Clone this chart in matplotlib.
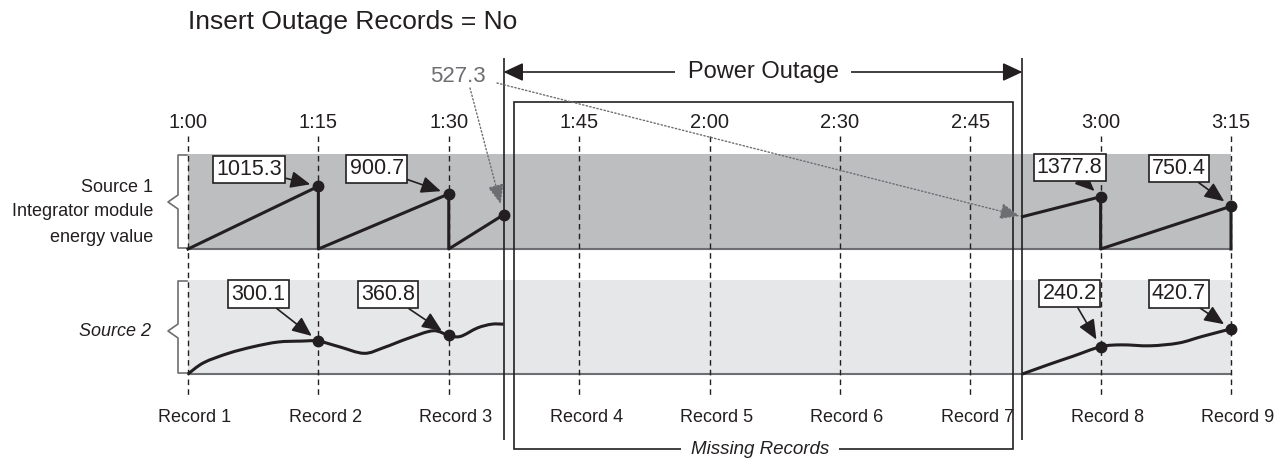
import numpy as np
import matplotlib.pyplot as plt
from matplotlib.patches import Rectangle, PathPatch
from matplotlib.path import Path

plt.rcParams['font.family'] = ['Liberation Sans', 'DejaVu Sans']

# --- data -------------------------------------------------------------
times = ['1:00', '1:15', '1:30', '1:45', '2:00', '2:30', '2:45', '3:00', '3:15']
records = ['Record %d' % (k + 1) for k in range(9)]
outage_start = 2.42   # in record units
outage_end = 6.40

# source 1: integrator value as fraction of band height
s1_x_before = [0, 1, 1, 2, 2, 2.42]
s1_y_before = [0, 0.66, 0, 0.58, 0, 0.36]
s1_x_after = [6.40, 7, 7, 8, 8]
s1_y_after = [0.34, 0.55, 0, 0.45, 0]
s1_rec_x = [1, 2, 7, 8]
s1_rec_y = [0.66, 0.58, 0.55, 0.45]
s1_labels = ['1015.3', '900.7', '1377.8', '750.4']
last_value = '527.3'

# source 2
s2_x_before = [0.0, 0.12, 0.31, 0.50, 0.69, 0.87, 1.0, 1.16, 1.35, 1.50,
               1.69, 1.88, 2.0, 2.09, 2.22, 2.33, 2.42]
s2_y_before = [0.0, 0.12, 0.22, 0.29, 0.34, 0.35, 0.35, 0.29, 0.22, 0.28,
               0.38, 0.46, 0.41, 0.40, 0.49, 0.53, 0.53]
s2_x_after = [6.40, 6.60, 6.79, 7.0, 7.16, 7.38, 7.60, 7.78, 8.0]
s2_y_after = [0.0, 0.10, 0.19, 0.29, 0.31, 0.30, 0.33, 0.40, 0.48]
s2_rec_x = [1, 2, 7, 8]
s2_rec_y = [0.35, 0.41, 0.29, 0.48]
s2_labels = ['300.1', '360.8', '240.2', '420.7']

# --- layout (pixels) --------------------------------------------------
W, H = 1282, 462
X0, STEP = 188, 130.375
ink = '#231f20'
grey = '#6d6e71'


def px(p):
    return (p - X0) / STEP


fig = plt.figure(figsize=(W / 100, H / 100), dpi=100)
ax = fig.add_axes([0, 0, 1, 1])
ax.set_xlim(px(0), px(W))
ax.set_ylim(H, 0)
ax.axis('off')


def band_axes(top, bottom, color):
    ax.add_patch(Rectangle((0, top), 8, bottom - top, fc=color, ec='none', zorder=0))
    ax.plot([0, 8], [bottom, bottom], color=grey, lw=1.5, zorder=1)
    a = fig.add_axes([X0 / W, 1 - bottom / H, 8 * STEP / W, (bottom - top) / H])
    a.set_xlim(0, 8)
    a.set_ylim(0, 1)
    a.axis('off')
    return a


ax1 = band_axes(154, 249, '#bcbec0')
ax2 = band_axes(280, 374, '#e6e7e8')

# dashed record lines
ax.vlines(range(9), 136, 397, colors=ink, linestyles=(0, (4, 3)), lw=1, zorder=2)
for k in range(9):
    ax.text(k, 122, times[k], ha='center', va='center', fontsize=14.5, color=ink)
    ax.text(k + px(195), 418, records[k], ha='center', va='center', fontsize=13, color=ink)

# outage lines and missing records box
ax.vlines([outage_start, outage_end], 58, 440, colors=ink, lw=1.2, zorder=2)
ax.add_patch(Rectangle((px(514), 102), px(1013) - px(514), 347, fill=False,
                       ec=ink, lw=1.2, zorder=2))
ax.text(px(760), 449, 'Missing Records', style='italic', ha='center', va='center',
        fontsize=13.5, color=ink, bbox=dict(fc='white', ec='none', pad=7), zorder=3)
ax.annotate('', xy=(outage_start, 72), xytext=(outage_end, 72),
            arrowprops=dict(arrowstyle='<|-|>,head_length=0.6,head_width=0.28',
                            mutation_scale=20, color=ink, lw=1.2, shrinkA=0, shrinkB=0))
ax.text(px(763), 72, 'Power Outage', ha='center', va='center', fontsize=17, color=ink,
        bbox=dict(fc='white', ec='none', pad=9), zorder=3)

ax.text(px(188), 22, 'Insert Outage Records = No', ha='left', va='center',
        fontsize=19, color=ink)


# braces and source labels
def brace(top, bottom, tip):
    xs = [px(187), px(178), px(178), px(168), px(178), px(178), px(187)]
    ys = [top, top, tip - 7, tip, tip + 7, bottom, bottom]
    ax.plot(xs, ys, color=grey, lw=1.2)


brace(155, 248, 202)
brace(281, 373, 331)
for txt, y in zip(['Source 1', 'Integrator module', 'energy value'], [187, 212, 237]):
    ax.text(px(153), y, txt, ha='right', va='center', fontsize=13, color=ink)
ax.text(px(151), 332, 'Source 2', ha='right', va='center', fontsize=13,
        style='italic', color=ink)


def smooth_path(xs, ys):
    # bezier curve through the read points (Catmull-Rom tangents)
    p = np.column_stack([xs, ys])
    verts = [p[0]]
    codes = [Path.MOVETO]
    n = len(p)
    for i in range(n - 1):
        p0 = p[i - 1] if i > 0 else p[i]
        p3 = p[i + 2] if i + 2 < n else p[i + 1]
        verts += [p[i] + (p[i + 1] - p0) / 6, p[i + 1] - (p3 - p[i]) / 6, p[i + 1]]
        codes += [Path.CURVE4] * 3
    return Path(verts, codes)


# series
for xs, ys in [(s1_x_before, s1_y_before), (s1_x_after, s1_y_after)]:
    ax1.plot(xs, ys, color=ink, lw=2.2, solid_joinstyle='round', clip_on=False, zorder=4)
for xs, ys in [(s2_x_before, s2_y_before), (s2_x_after, s2_y_after)]:
    ax2.add_patch(PathPatch(smooth_path(xs, ys), fill=False, ec=ink, lw=2.2,
                            clip_on=False, zorder=4))

ax1.plot(s1_rec_x + [outage_start], s1_rec_y + [s1_y_before[-1]], 'o', ms=7.5,
         color=ink, clip_on=False, zorder=5)
ax2.plot(s2_rec_x, s2_rec_y, 'o', ms=7.5, color=ink, clip_on=False, zorder=5)

offsets1 = [(-69, 17), (-72, 25), (-31, 29), (-52, 38)]
offsets2 = [(-60, 47), (-61, 41), (-31, 53), (-52, 35)]
for a, xs, ys, labs, offs in [(ax1, s1_rec_x, s1_rec_y, s1_labels, offsets1),
                              (ax2, s2_rec_x, s2_rec_y, s2_labels, offsets2)]:
    for x, y, lab, off in zip(xs, ys, labs, offs):
        a.annotate(lab, xy=(x, y), xytext=off, textcoords='offset pixels',
                   ha='center', va='center', fontsize=15.5, color=ink,
                   bbox=dict(boxstyle='square,pad=0.15', fc='white', ec=ink, lw=1.2),
                   arrowprops=dict(arrowstyle='-|>,head_length=0.6,head_width=0.26',
                                   mutation_scale=20, color=ink, lw=1.2,
                                   shrinkA=0, shrinkB=6),
                   annotation_clip=False, zorder=6)

# last value before outage, carried over after it
ax.text(px(458), 76, last_value, ha='center', va='center', fontsize=16, color=grey)
for xy, start, sb in [((outage_start, s1_y_before[-1]), (px(470), 88), 8),
                      ((outage_end, s1_y_after[0]), (px(497), 83), 2)]:
    ax1.annotate('', xy=xy, xytext=start, textcoords=ax.transData,
                 arrowprops=dict(arrowstyle='-|>,head_length=0.6,head_width=0.25',
                                 mutation_scale=20, color=grey, lw=1, ls=':',
                                 shrinkA=0, shrinkB=sb),
                 annotation_clip=False, zorder=6)

fig.savefig('out.png', dpi=100)
